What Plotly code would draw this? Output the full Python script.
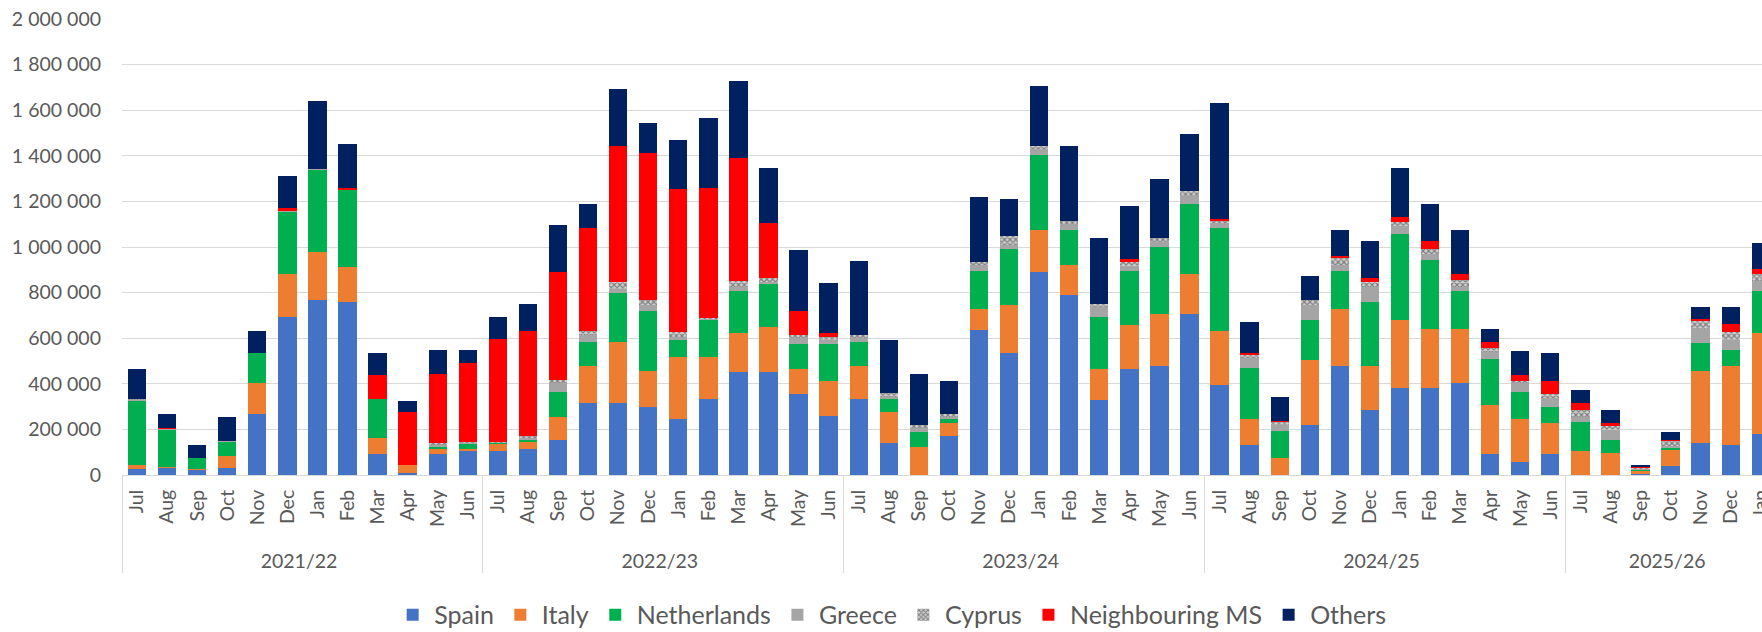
import plotly.graph_objects as go

# ---- categories ----
years = ["2021/22", "2022/23", "2023/24", "2024/25", "2025/26"]
months = ["Jul", "Aug", "Sep", "Oct", "Nov", "Dec", "Jan", "Feb", "Mar", "Apr", "May", "Jun"]
months_in_last_year = 7

# ---- series values (thousands) ----
spain = [25, 34, 25, 32, 269, 695, 768, 759, 91, 10, 91, 107,
         107, 114, 155, 317, 317, 299, 244, 333, 453, 453, 356, 260,
         333, 139, 0, 171, 638, 533, 889, 791, 331, 463, 477, 704,
         396, 130, 0, 219, 477, 283, 381, 381, 404, 91, 58, 91,
         0, 0, 3, 41, 139, 130, 178]
italy = [19, 2, 1, 51, 135, 185, 210, 154, 73, 34, 23, 8,
         32, 32, 99, 160, 266, 157, 274, 185, 170, 194, 107, 153,
         144, 137, 123, 57, 89, 212, 187, 129, 132, 193, 227, 176,
         235, 114, 74, 285, 250, 194, 298, 258, 235, 217, 186, 137,
         107, 98, 15, 73, 317, 347, 445]
netherlands = [282, 165, 48, 66, 130, 276, 362, 340, 169, 2, 10, 24,
               2, 10, 111, 106, 216, 262, 73, 164, 183, 193, 112, 162,
               106, 57, 64, 16, 168, 248, 329, 153, 231, 239, 296, 307,
               452, 226, 120, 175, 168, 282, 378, 306, 168, 202, 121, 71,
               127, 55, 8, 3, 125, 71, 184]
greece = [5, 1, 0, 1, 0, 2, 1, 0, 0, 0, 8, 4,
          3, 5, 37, 33, 17, 28, 15, 3, 19, 7, 24, 16,
          16, 10, 17, 11, 25, 14, 26, 26, 43, 22, 22, 39,
          22, 41, 25, 66, 25, 66, 35, 26, 18, 30, 37, 37,
          22, 44, 3, 12, 61, 43, 43]
cyprus = [2, 0, 0, 0, 0, 0, 0, 0, 0, 0, 7, 3,
          2, 10, 14, 15, 31, 23, 23, 4, 25, 17, 17, 15,
          14, 15, 15, 12, 14, 43, 13, 15, 15, 17, 19, 18,
          12, 18, 15, 22, 32, 22, 18, 22, 32, 18, 11, 19,
          29, 22, 2, 22, 37, 37, 30]
neighbouring = [0, 2, 0, 0, 0, 14, 0, 7, 104, 230, 306, 347,
                450, 460, 473, 452, 598, 644, 624, 571, 540, 243, 104, 17,
                0, 0, 0, 0, 0, 0, 0, 0, 0, 12, 0, 0,
                7, 7, 3, 0, 9, 19, 22, 33, 23, 25, 25, 58,
                32, 7, 2, 2, 7, 36, 25]
others = [130, 63, 57, 103, 97, 138, 299, 193, 97, 48, 105, 57,
          99, 121, 209, 104, 250, 129, 217, 307, 339, 241, 266, 217,
          324, 233, 226, 146, 285, 160, 260, 330, 289, 232, 258, 250,
          507, 136, 103, 105, 112, 160, 216, 161, 193, 56, 105, 123,
          55, 59, 11, 34, 50, 72, 113]

series_names = ["Spain", "Italy", "Netherlands", "Greece", "Cyprus", "Neighbouring MS", "Others"]
series_values = [spain, italy, netherlands, greece, cyprus, neighbouring, others]
series_colors = ["#4472C4", "#ED7D31", "#00B050", "#A5A5A5", "#FFFFFF", "#FF0000", "#002060"]

year_cat, month_cat = [], []
for i, y in enumerate(years):
    ms = months if i < len(years) - 1 else months[:months_in_last_year]
    for m in ms:
        year_cat.append(y)
        month_cat.append(m)

FONT = "Lato"
TXT = "#595959"
GRID = "#D9D9D9"

fig = go.Figure()
for name, vals, col in zip(series_names, series_values, series_colors):
    marker = dict(color=col, line=dict(width=0))
    if name == "Cyprus":
        marker = dict(color="#FFFFFF", line=dict(width=0),
                      pattern=dict(shape="x", fgcolor="#2A2A2A", bgcolor="#D0D0D0",
                                   size=4, solidity=0.5))
    fig.add_trace(go.Bar(
        x=[year_cat, month_cat],
        y=[v * 1000 for v in vals],
        name=name,
        marker=marker,
    ))

fig.update_layout(
    width=1762, height=632,
    margin=dict(l=122, r=0, t=19, b=157, autoexpand=False),
    paper_bgcolor="white", plot_bgcolor="white",
    barmode="stack", bargap=0.39,
    separators=". ",
    font=dict(family=FONT, size=19, color=TXT),
    legend=dict(orientation="h", x=0.469, xanchor="center", y=-0.307, yanchor="middle",
                traceorder="normal", font=dict(family=FONT, size=25, color=TXT),
                itemwidth=33),
    xaxis=dict(
        type="multicategory",
        range=[-0.5, 54.04],
        autorange=False,
        automargin=False,
        tickangle=-90,
        tickprefix="\u00a0\u00a0",
        showline=True, linecolor=GRID, linewidth=1,
        showdividers=True, dividercolor=GRID, dividerwidth=1,
        showgrid=False, ticks="",
        ticklabelstandoff=6,
        tickfont=dict(family=FONT, size=19.5, color=TXT),
    ),
    yaxis=dict(
        range=[0, 2000000], dtick=200000, tickformat=",.0f",
        autorange=False, automargin=False,
        showgrid=True, gridcolor=GRID, gridwidth=1,
        zeroline=False, showline=False,
        ticklabelstandoff=20,
        tickfont=dict(family=FONT, size=19.5, color=TXT),
    ),
)

fig.write_html("out.html", config={"displayModeBar": False},
               post_script="document.body.style.margin='0';")
